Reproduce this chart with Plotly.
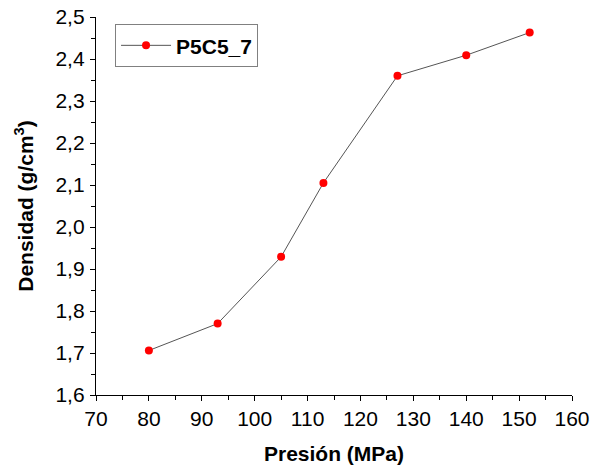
import plotly.graph_objects as go

# Density vs. compaction pressure, sample P5C5_7
presion = [80, 93, 105, 113, 127, 140, 152]
densidad = [1.706, 1.770, 1.929, 2.105, 2.360, 2.409, 2.463]
serie = "P5C5_7"

FONT = "Liberation Sans, Arial, sans-serif"

fig = go.Figure()
fig.add_trace(go.Scatter(
    x=presion, y=densidad, mode="lines+markers", name=serie,
    line=dict(color="#555555", width=1),
    marker=dict(color="#ff0000", size=8, symbol="circle"),
))

axis_common = dict(
    showline=True, linecolor="black", linewidth=1.3, mirror=False,
    ticks="outside", ticklen=5, tickwidth=1.2, tickcolor="black",
    showgrid=False, zeroline=False, automargin=False,
    tickfont=dict(family=FONT, size=21, color="black"),
)

fig.update_layout(
    width=591, height=468,
    margin=dict(l=96, r=19, t=17, b=73),
    paper_bgcolor="white", plot_bgcolor="white",
    separators=",.",
    showlegend=True,
    legend=dict(
        x=0.04, y=0.981, xanchor="left", yanchor="top",
        bordercolor="#808080", borderwidth=1, bgcolor="white",
        font=dict(family=FONT, size=21, color="black", weight="bold"),
        itemwidth=50,
    ),
    xaxis=dict(
        range=[70, 160], dtick=10, tickformat="d",
        minor=dict(dtick=5, ticks="outside", ticklen=4, tickcolor="black", tickwidth=1),
        title=dict(text="<b>Presión (MPa)</b>", font=dict(family=FONT, size=21, color="black"), standoff=16),
        **axis_common,
    ),
    yaxis=dict(
        range=[1.6, 2.5], dtick=0.1, tickformat=".1f", ticklabelstandoff=1,
        minor=dict(dtick=0.05, ticks="outside", ticklen=4, tickcolor="black", tickwidth=1),
        title=dict(text="<b>Densidad (g/cm<sup>3</sup>)</b>", font=dict(family=FONT, size=21, color="black"), standoff=16),
        **axis_common,
    ),
)

fig.write_html("out.html")
